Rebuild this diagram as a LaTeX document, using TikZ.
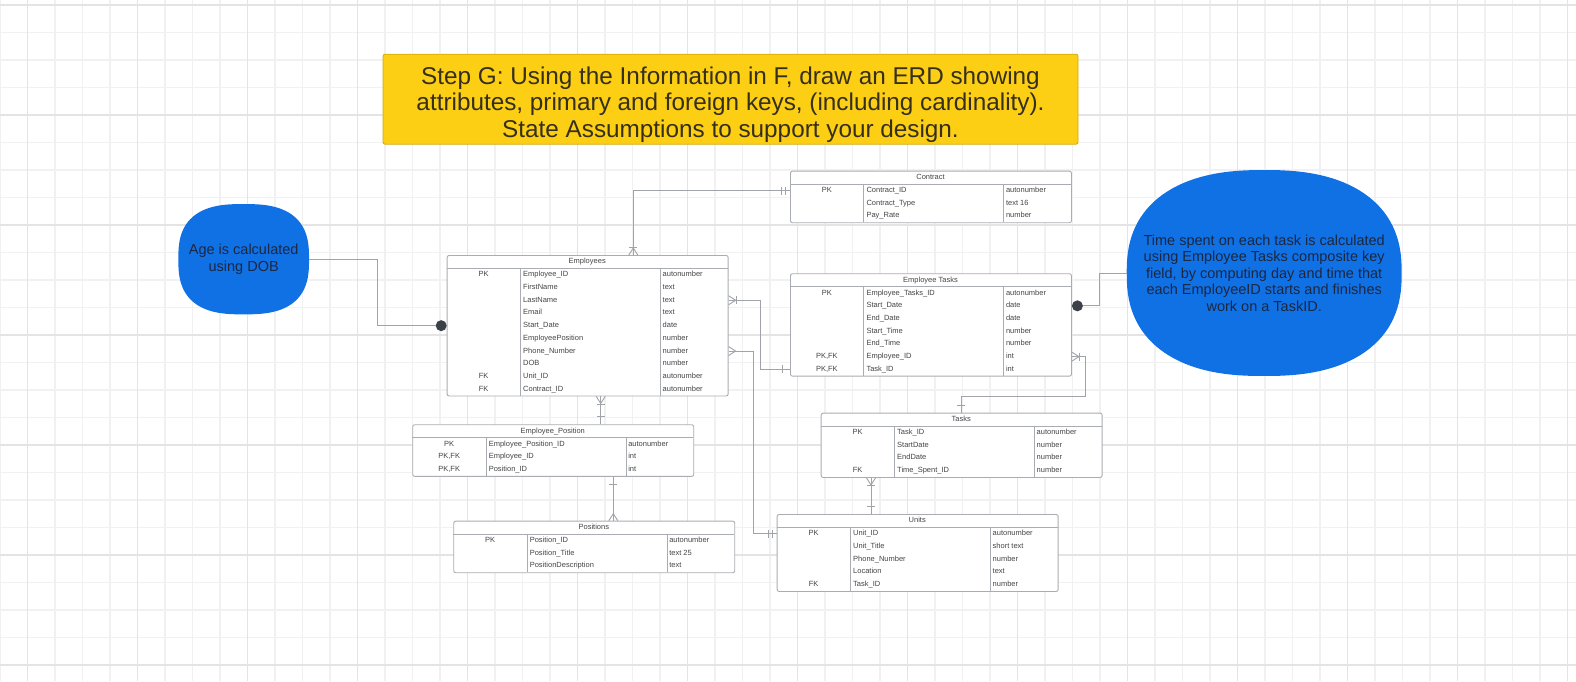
\documentclass[tikz,border=0pt]{standalone}
\usepackage{fontspec}
\setmainfont{Liberation Sans}
\usetikzlibrary{calc}
\definecolor{gridl}{HTML}{F1F1F1}
\definecolor{gridd}{HTML}{E4E4E4}
\definecolor{lineg}{HTML}{A0A4AA}
\definecolor{tabg}{HTML}{A9ADB2}
\definecolor{txtg}{HTML}{454545}
\definecolor{ttlyel}{HTML}{FCCE14}
\definecolor{ttlbrd}{HTML}{D2A80C}
\definecolor{ttltxt}{HTML}{352F1C}
\definecolor{blobblue}{HTML}{1071E5}
\definecolor{blobtxt}{HTML}{1C2740}
\definecolor{dotc}{HTML}{3B4049}
\newcommand{\pkfk}{PK,FK}
\tikzset{
 tabbox/.style={draw=tabg, line width=0.9pt, rounded corners=2pt, fill=white, anchor=north west, minimum width=281pt, inner sep=0pt},
 tabline/.style={draw=tabg, line width=0.9pt},
 celltx/.style={font=\fontsize{7.5}{9}\selectfont, text=txtg, inner sep=0pt, text height=5.6pt, text depth=1.6pt},
 keytx/.style={celltx, anchor=center},
 nametx/.style={celltx, anchor=west},
 hdrtx/.style={celltx, anchor=center},
 conn/.style={draw=lineg, line width=0.9pt},
 enddot/.style={circle, fill=dotc, minimum size=11pt, inner sep=0pt},
 titlebox/.style={draw=ttlbrd, fill=ttlyel, line width=0.8pt, rounded corners=2pt, minimum width=695pt, minimum height=90pt, inner sep=0pt},
 titletx/.style={align=center, font=\fontsize{24.3}{26.3}\selectfont, text=ttltxt, inner sep=0pt},
 blobtx/.style={font=\fontsize{14.5}{16.5}\selectfont, text=blobtxt, align=center, inner sep=0pt},
 gridlight/.style={draw=gridl, line width=1.5pt},
 griddark/.style={draw=gridd, line width=1.5pt}
}
\newcommand{\erdtab}[6]{%
  \node[tabbox, minimum height={13.5pt+#5*12.7pt}] (#1) at (#3,#4) {};
  \node[hdrtx] (#1-h) at (#3+140.5,#4+6.75) {#2};
  \draw[tabline] (#3,#4+13.5) -- (#3+281,#4+13.5);
  \draw[tabline] (#3+73.8,#4+13.5) -- (#3+73.8,#4+13.5+#5*12.7);
  \draw[tabline] (#3+213.8,#4+13.5) -- (#3+213.8,#4+13.5+#5*12.7);
  \foreach \k/\n/\t [count=\i] in {#6} {
    \node[keytx] (#1-k\i) at (#3+36.9,#4+7.15+\i*12.7) {\k};
    \node[nametx] (#1-n\i) at (#3+76.3,#4+7.15+\i*12.7) {\n};
    \node[nametx] (#1-t\i) at (#3+215.8,#4+7.15+\i*12.7) {\t};
  }
}
\newcommand{\erdcrow}[3]{\draw[conn] ($(#1)+({4.5*(#3)},{-4.5*(#2)})$) -- ($(#1)+({7*(#2)},{7*(#3)})$) -- ($(#1)+({-4.5*(#3)},{4.5*(#2)})$);}
\newcommand{\erdbar}[4]{\draw[conn] ($(#1)+({(#4)*(#2)+4*(#3)},{(#4)*(#3)-4*(#2)})$) -- ($(#1)+({(#4)*(#2)-4*(#3)},{(#4)*(#3)+4*(#2)})$);}
\begin{document}
\begin{tikzpicture}[x=1pt,y=-1pt]
\fill[white] (0,0) rectangle (1576,681);
\useasboundingbox (0,0) rectangle (1576,681);
% grid
\foreach \k in {0,...,57} \draw[gridlight] (27.5*\k,0) -- (27.5*\k,681);
\foreach \k in {0,...,24} \draw[gridlight] (0,5+27.5*\k) -- (1576,5+27.5*\k);
\foreach \k in {1,5,...,57} \draw[griddark] (27.5*\k,0) -- (27.5*\k,681);
\foreach \k in {0,4,...,24} \draw[griddark] (0,5+27.5*\k) -- (1576,5+27.5*\k);
% title
\node[titlebox] (title) at (730.5,99.2) {};
\node[titletx] (titletext) at (730.5,104.6) {Step G: Using the Information in F, draw an ERD showing\\attributes, primary and foreign keys, (including cardinality).\\State Assumptions to support your design.};
% blobs
\fill[blobblue] plot[domain=1:361, samples=121] ({243.7+65.35*cos(\x)*abs(cos(\x))^(-0.26)}, {259.2+55.15*sin(\x)*abs(sin(\x))^(-0.26)}) -- cycle;
\node[blobtx, minimum width=130.7pt, minimum height=110.3pt] (blob1) at (243.7,259.2) {Age is calculated\\using DOB};
\fill[blobblue] plot[domain=1:361, samples=121] ({1264.2+137.5*cos(\x)*abs(cos(\x))^(-0.17)}, {273+103*sin(\x)*abs(sin(\x))^(-0.17)}) -- cycle;
\node[blobtx, minimum width=275pt, minimum height=206pt] (blob2) at (1264.2,273) {Time spent on each task is calculated\\using Employee Tasks composite key\\field, by computing day and time that\\each EmployeeID starts and finishes\\work on a TaskID.};
% tables
\erdtab{con}{Contract}{790}{170.7}{3}{PK/Contract\_ID/autonumber, {}/Contract\_Type/text 16, {}/Pay\_Rate/number}
\erdtab{emp}{Employees}{446.7}{255}{10}{PK/Employee\_ID/autonumber, {}/FirstName/text, {}/LastName/text, {}/Email/text, {}/Start\_Date/date, {}/EmployeePosition/number, {}/Phone\_Number/number, {}/DOB/number, FK/Unit\_ID/autonumber, FK/Contract\_ID/autonumber}
\erdtab{et}{Employee Tasks}{790}{273.3}{7}{PK/Employee\_Tasks\_ID/autonumber, {}/Start\_Date/date, {}/End\_Date/date, {}/Start\_Time/number, {}/End\_Time/number, \pkfk/Employee\_ID/int, \pkfk/Task\_ID/int}
\erdtab{tsk}{Tasks}{820.7}{412.7}{4}{PK/Task\_ID/autonumber, {}/StartDate/number, {}/EndDate/number, FK/Time\_Spent\_ID/number}
\erdtab{uni}{Units}{776.7}{514}{5}{PK/Unit\_ID/autonumber, {}/Unit\_Title/short text, {}/Phone\_Number/number, {}/Location/text, FK/Task\_ID/number}
\erdtab{ep}{Employee\_Position}{412.3}{424.3}{3}{PK/Employee\_Position\_ID/autonumber, \pkfk/Employee\_ID/int, \pkfk/Position\_ID/int}
\erdtab{pos}{Positions}{453.3}{520.7}{3}{PK/Position\_ID/autonumber, {}/Position\_Title/text 25, {}/PositionDescription/text}
% connectors
\draw[conn] ($(emp.north west)+(186.6,0)$) coordinate (c1a) |- (con.west |- con-k1) coordinate (c1b);
\erdcrow{c1a}{0}{-1} \erdbar{c1a}{0}{-1}{8}
\erdbar{c1b}{-1}{0}{4.5} \erdbar{c1b}{-1}{0}{8.5}
\draw[conn] (emp.east |- emp-n3) coordinate (c2a) -- ++(31.6,0) |- (et.west |- et-n7) coordinate (c2b);
\erdcrow{c2a}{1}{0} \erdbar{c2a}{1}{0}{8}
\erdbar{c2b}{-1}{0}{7.5}
\draw[conn] (emp.east |- emp-n7) coordinate (c3a) -- ++(24.8,0) |- (uni.west |- uni-n1) coordinate (c3b);
\erdcrow{c3a}{1}{0}
\erdbar{c3b}{-1}{0}{4.5} \erdbar{c3b}{-1}{0}{8.5}
\draw[conn] ($(emp.south west)+(154,0)$) coordinate (c4a) -- (c4a |- ep.north) coordinate (c4b);
\erdcrow{c4a}{0}{1} \erdbar{c4a}{0}{1}{8}
\erdbar{c4b}{0}{-1}{7.5}
\draw[conn] ($(ep.south west)+(201,0)$) coordinate (c5a) -- (c5a |- pos.north) coordinate (c5b);
\erdbar{c5a}{0}{1}{7.5}
\erdcrow{c5b}{0}{-1}
\draw[conn] ($(tsk.south west)+(50.3,0)$) coordinate (c6a) -- (c6a |- uni.north) coordinate (c6b);
\erdcrow{c6a}{0}{1} \erdbar{c6a}{0}{1}{8}
\erdbar{c6b}{0}{-1}{7.5}
\draw[conn] ($(tsk.north west)+(140.3,0)$) coordinate (c7a) -- ++(0,-16.7) -| ($(et.east |- et-n6)+(13.3,0)$) -- (et.east |- et-n6) coordinate (c7b);
\erdbar{c7a}{0}{-1}{7.5}
\erdcrow{c7b}{1}{0} \erdbar{c7b}{1}{0}{8}
% assumption links
\node[enddot] (dot1) at ($(emp.west |- emp-n5)+(-5.5,0)$) {};
\draw[conn] (blob1.east) -- ++(68.3,0) |- (dot1);
\node[enddot] (dot2) at ($(et.east |- et-n2)+(5.5,0)$) {};
\draw[conn] (blob2.west) -- ++(-26.7,0) |- (dot2);
\end{tikzpicture}
\end{document}
